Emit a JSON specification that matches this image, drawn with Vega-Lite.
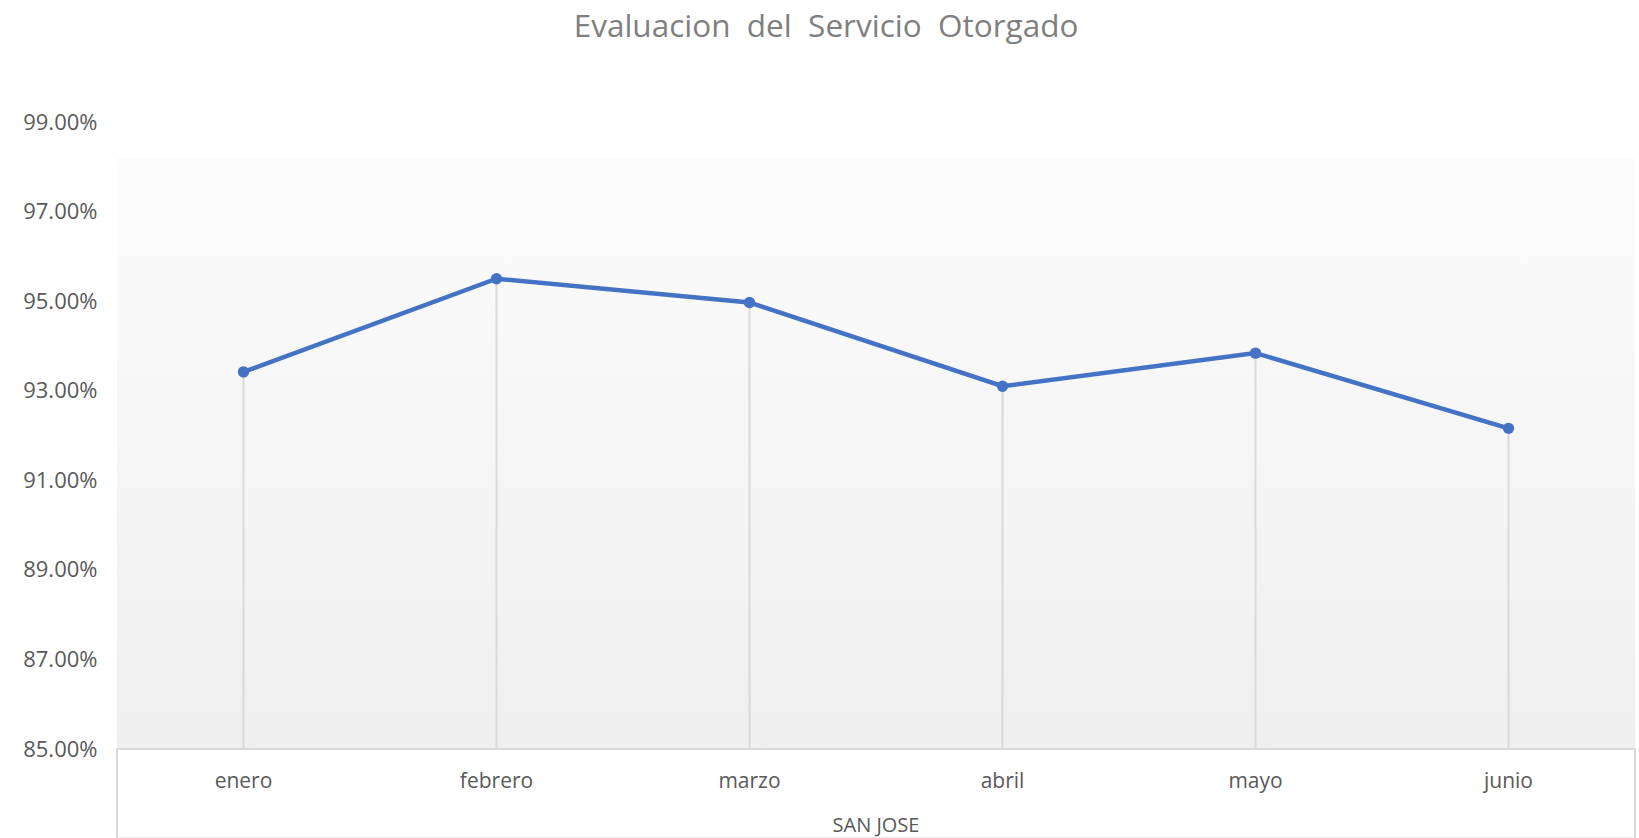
{
  "$schema": "https://vega.github.io/schema/vega-lite/v6.json",
  "width": 1518,
  "height": 627,
  "autosize": "none",
  "padding": {"left": 117, "top": 122, "right": 4, "bottom": 89},
  "background": "white",
  "config": {"view": {"stroke": null}, "font": "Open Sans"},
  "title": {
    "text": "Evaluacion\u00a0 del\u00a0 Servicio\u00a0 Otorgado",
    "fontSize": 31.5,
    "fontWeight": "normal",
    "color": "#7f7f7f",
    "font": "Open Sans",
    "anchor": "middle",
    "offset": 68,
    "dx": -50
  },
  "data": {
    "values": [
      {"mes": "enero", "grupo": "SAN JOSE", "valor": 0.9342},
      {"mes": "febrero", "grupo": "SAN JOSE", "valor": 0.955},
      {"mes": "marzo", "grupo": "SAN JOSE", "valor": 0.9497},
      {"mes": "abril", "grupo": "SAN JOSE", "valor": 0.931},
      {"mes": "mayo", "grupo": "SAN JOSE", "valor": 0.9384},
      {"mes": "junio", "grupo": "SAN JOSE", "valor": 0.9216}
    ]
  },
  "encoding": {
    "x": {
      "field": "mes",
      "type": "nominal",
      "sort": null,
      "scale": {"type": "point", "padding": 0.5},
      "axis": null
    }
  },
  "layer": [
    {
      "mark": {
        "type": "rect",
        "fill": {
          "x1": 0, "y1": 0, "x2": 0, "y2": 1,
          "gradient": "linear",
          "stops": [
            {"offset": 0, "color": "#fcfcfc"},
            {"offset": 1, "color": "#efefef"}
          ]
        }
      },
      "encoding": {
        "x": null,
        "y": {
          "datum": 0.982,
          "type": "quantitative",
          "scale": {"domain": [0.85, 0.99], "zero": false, "nice": false},
          "axis": {
            "values": [0.85, 0.87, 0.89, 0.91, 0.93, 0.95, 0.97, 0.99],
            "format": ".2%",
            "title": null,
            "domain": false,
            "ticks": false,
            "grid": false,
            "labelFontSize": 22,
            "labelColor": "#595959",
            "labelPadding": 20,
            "labelFont": "Open Sans"
          }
        },
        "y2": {"datum": 0.85}
      }
    },
    {
      "mark": {"type": "rect", "fill": "white", "stroke": "#d9d9d9", "strokeWidth": 2},
      "encoding": {
        "x": null,
        "y": {"datum": 0.85, "type": "quantitative"},
        "y2": {"datum": 0.83}
      }
    },
    {
      "mark": {"type": "rule", "color": "#d9d9d9", "strokeWidth": 2},
      "encoding": {
        "y": {"field": "valor", "type": "quantitative"},
        "y2": {"datum": 0.85}
      }
    },
    {
      "mark": {
        "type": "line",
        "color": "#4472c4",
        "strokeWidth": 4.5,
        "point": {"filled": true, "size": 130, "color": "#4472c4"}
      },
      "encoding": {
        "y": {"field": "valor", "type": "quantitative"}
      }
    },
    {
      "mark": {"type": "text", "fontSize": 21, "color": "#595959", "baseline": "middle", "font": "Open Sans"},
      "encoding": {
        "y": {"datum": 0.8427, "type": "quantitative"},
        "text": {"field": "mes"}
      }
    },
    {
      "data": {"values": [{"grupo": "SAN JOSE"}]},
      "mark": {"type": "text", "fontSize": 20, "color": "#595959", "baseline": "middle", "font": "Open Sans"},
      "encoding": {
        "x": null,
        "y": {"datum": 0.8329, "type": "quantitative"},
        "text": {"field": "grupo"}
      }
    }
  ]
}
